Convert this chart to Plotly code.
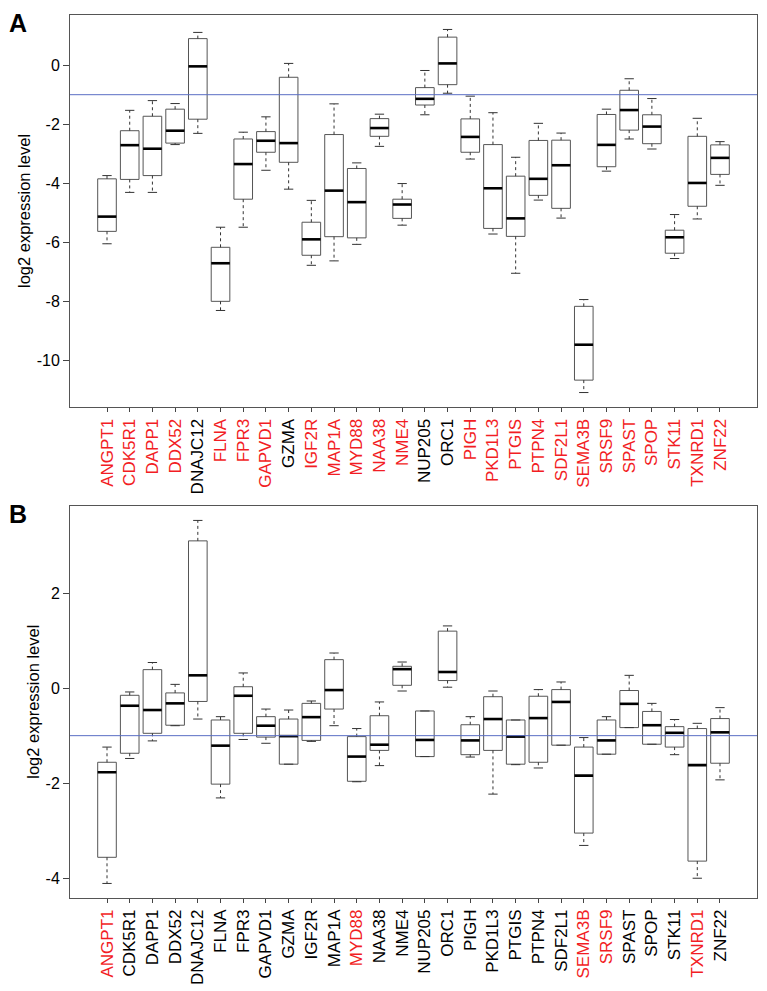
import plotly.graph_objects as go

genes = ["ANGPT1", "CDK5R1", "DAPP1", "DDX52", "DNAJC12", "FLNA", "FPR3", "GAPVD1",
         "GZMA", "IGF2R", "MAP1A", "MYD88", "NAA38", "NME4", "NUP205", "ORC1", "PIGH",
         "PKD1L3", "PTGIS", "PTPN4", "SDF2L1", "SEMA3B", "SRSF9", "SPAST", "SPOP",
         "STK11", "TXNRD1", "ZNF22"]

# Panel A (five-number summaries)
a_low = [-6.05, -4.31, -4.31, -2.69, -2.31, -8.31, -5.49, -3.56, -4.20, -6.78, -6.63, -6.07,
         -2.75, -5.42, -1.68, -0.95, -3.18, -5.72, -7.05, -4.57, -5.18, -11.09, -3.59, -2.50,
         -2.84, -6.55, -5.21, -4.07]
a_q1 = [-5.63, -3.87, -3.74, -2.64, -1.83, -8.00, -4.54, -2.95, -3.29, -6.44, -5.81, -5.85,
        -2.41, -5.19, -1.35, -0.66, -2.95, -5.53, -5.80, -4.41, -4.85, -10.67, -3.44, -2.20,
        -2.66, -6.37, -4.78, -3.70]
a_med = [-5.13, -2.71, -2.83, -2.22, -0.04, -6.71, -3.35, -2.56, -2.64, -5.90, -4.25, -4.64,
         -2.13, -4.72, -1.14, 0.06, -2.43, -4.17, -5.19, -3.85, -3.39, -9.47, -2.70, -1.52,
         -2.08, -5.83, -3.99, -3.14]
a_q3 = [-3.85, -2.22, -1.73, -1.49, 0.90, -6.17, -2.50, -2.25, -0.41, -5.32, -2.35, -3.50,
        -1.81, -4.54, -0.76, 0.95, -1.82, -2.69, -3.76, -2.55, -2.54, -8.17, -1.67, -0.85,
        -1.68, -5.59, -2.41, -2.70]
a_high = [-3.74, -1.53, -1.20, -1.30, 1.11, -5.49, -2.27, -1.75, 0.06, -4.58, -1.31, -3.31,
          -1.66, -4.01, -0.18, 1.21, -1.05, -1.61, -3.12, -1.97, -2.30, -7.94, -1.49, -0.46,
          -1.13, -5.06, -1.80, -2.59]
a_red = ["ANGPT1", "CDK5R1", "DAPP1", "DDX52", "FLNA", "FPR3", "GAPVD1", "IGF2R", "MAP1A",
         "MYD88", "NAA38", "NME4", "PIGH", "PKD1L3", "PTGIS", "PTPN4", "SDF2L1", "SEMA3B",
         "SRSF9", "SPAST", "SPOP", "STK11", "TXNRD1", "ZNF22"]

# Panel B
b_low = [-4.11, -1.48, -1.11, -0.79, -0.65, -2.31, -1.08, -1.16, -1.60, -1.12, -0.79, -1.97,
         -1.63, -0.06, -1.44, 0.02, -1.45, -2.23, -1.61, -1.68, -1.20, -3.31, -1.39, -0.83,
         -1.18, -1.40, -4.00, -1.93]
b_q1 = [-3.56, -1.37, -0.95, -0.78, -0.28, -2.02, -0.95, -1.03, -1.60, -1.10, -0.44, -1.96,
        -1.31, 0.06, -1.44, 0.16, -1.40, -1.31, -1.60, -1.56, -1.20, -3.05, -1.39, -0.83,
        -1.18, -1.24, -3.64, -1.58]
b_med = [-1.77, -0.37, -0.46, -0.32, 0.27, -1.21, -0.16, -0.79, -1.01, -0.61, -0.04, -1.44,
         -1.19, 0.40, -1.09, 0.34, -1.10, -0.65, -1.02, -0.63, -0.29, -1.84, -1.10, -0.33,
         -0.78, -0.94, -1.62, -0.93]
b_q3 = [-1.56, -0.15, 0.39, -0.10, 3.10, -0.67, 0.03, -0.60, -0.65, -0.32, 0.60, -1.02,
        -0.58, 0.46, -0.48, 1.20, -0.77, -0.18, -0.67, -0.17, -0.03, -1.24, -0.67, -0.05,
        -0.49, -0.81, -0.85, -0.64]
b_high = [-1.24, -0.08, 0.54, 0.08, 3.53, -0.60, 0.32, -0.44, -0.46, -0.27, 0.74, -0.85,
          -0.29, 0.55, -0.48, 1.31, -0.60, -0.06, -0.67, -0.03, 0.13, -1.04, -0.60, 0.27,
          -0.32, -0.66, -0.74, -0.41]
b_red = ["ANGPT1", "MYD88", "SEMA3B", "SRSF9", "TXNRD1"]

ref_level = -1.0
a_yticks = [-10, -8, -6, -4, -2, 0]
b_yticks = [-4, -2, 0, 2]

RED = "#f21d24"
BOXW = 0.41   # half box width (category units)
CAPW = 0.205  # half cap width
XR = [-1.63, 28.63]

fig = go.Figure()


def add_panel(low, q1, med, q3, high, xa, ya):
    bx, by, wx, wy, cx, cy, mx, my = [], [], [], [], [], [], [], []
    for i in range(len(genes)):
        bx += [i - BOXW, i + BOXW, i + BOXW, i - BOXW, i - BOXW, None]
        by += [q1[i], q1[i], q3[i], q3[i], q1[i], None]
        wx += [i, i, None, i, i, None]
        wy += [q3[i], high[i], None, q1[i], low[i], None]
        cx += [i - CAPW, i + CAPW, None, i - CAPW, i + CAPW, None]
        cy += [high[i], high[i], None, low[i], low[i], None]
        mx += [i - BOXW, i + BOXW, None]
        my += [med[i], med[i], None]
    common = dict(xaxis=xa, yaxis=ya, mode="lines", hoverinfo="skip", showlegend=False)
    fig.add_trace(go.Scatter(x=bx, y=by, fill="toself", fillcolor="white",
                             line=dict(color="#555555", width=1), **common))
    fig.add_trace(go.Scatter(x=wx, y=wy, line=dict(color="#333333", width=1, dash="3px,3px"), **common))
    fig.add_trace(go.Scatter(x=cx, y=cy, line=dict(color="#333333", width=1), **common))
    fig.add_trace(go.Scatter(x=mx, y=my, line=dict(color="black", width=2.6), **common))
    fig.add_trace(go.Scatter(x=XR, y=[ref_level, ref_level],
                             line=dict(color="#5a6ec4", width=1), **common))


add_panel(a_low, a_q1, a_med, a_q3, a_high, "x", "y")
add_panel(b_low, b_q1, b_med, b_q3, b_high, "x2", "y2")


def ticktext(red):
    return [f'<span style="color:{RED}">{g}</span>' if g in red else g for g in genes]


FONT = "Liberation Sans, Arial"
xcommon = dict(range=XR, tickmode="array", tickvals=list(range(len(genes))),
               tickangle=-90, ticks="outside", ticklen=4, tickcolor="#444",
               tickfont=dict(family=FONT, size=17, color="black"),
               showgrid=False, zeroline=False, showline=True, mirror=True,
               linecolor="#555555", linewidth=1, automargin=False, fixedrange=True)
ycommon = dict(tickmode="array", ticks="outside", ticklen=6, tickcolor="#444",
               tickfont=dict(family=FONT, size=16, color="black"),
               showgrid=False, zeroline=False, showline=True, mirror=True,
               linecolor="#555555", linewidth=1, automargin=False, fixedrange=True,
               title=dict(text="log2 expression level", standoff=1,
                          font=dict(family=FONT, size=16.5, color="black")))

# page is offset by the 8px body margin
OFF = 8
W, H = 767 - OFF, 991 - OFF


def px(x):
    return (x - OFF) / W


def py(y):
    return 1 - (y - OFF) / H


xdom = [px(70), px(757)]
fig.update_layout(
    width=W, height=H, margin=dict(l=0, r=0, t=0, b=0),
    paper_bgcolor="white", plot_bgcolor="white",
    xaxis=dict(domain=xdom, anchor="y", ticktext=ticktext(a_red), **xcommon),
    yaxis=dict(domain=[py(407), py(15)], anchor="x", range=[-11.58, 1.70],
               tickvals=a_yticks, ticktext=[str(v) for v in a_yticks], **ycommon),
    xaxis2=dict(domain=xdom, anchor="y2", ticktext=ticktext(b_red), **xcommon),
    yaxis2=dict(domain=[py(897.7), py(505.7)], anchor="x2", range=[-4.41, 3.84],
                tickvals=b_yticks, ticktext=[str(v) for v in b_yticks], **ycommon),
    annotations=[
        dict(text="<b>A</b>", x=px(8), y=py(8), xref="paper", yref="paper",
             xanchor="left", yanchor="top", showarrow=False, borderpad=0,
             font=dict(family=FONT, size=25, color="black")),
        dict(text="<b>B</b>", x=px(8), y=py(499), xref="paper", yref="paper",
             xanchor="left", yanchor="top", showarrow=False, borderpad=0,
             font=dict(family=FONT, size=25, color="black")),
    ],
)

fig.write_html("out.html")
